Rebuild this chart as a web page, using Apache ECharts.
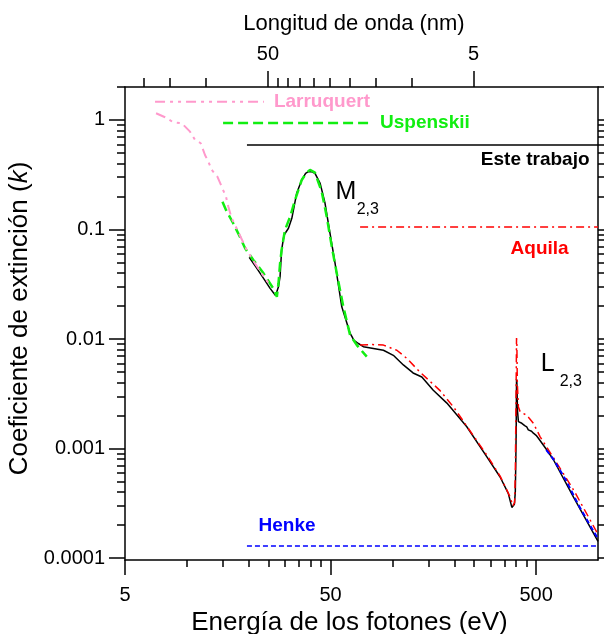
<!DOCTYPE html>
<html>
<head>
<meta charset="utf-8">
<script src="https://cdn.jsdelivr.net/npm/echarts@6/dist/echarts.min.js"></script>
<style>
  html, body { margin: 0; padding: 0; background: #fff; }
  #chart { width: 604px; height: 634px; }
</style>
</head>
<body>
<div id="chart"></div>
<script>
// ---- data ----
const HC = 1239.84; // eV*nm

const eMajor = [5, 50, 500];
const eMinor = [10, 15, 20, 25, 30, 35, 40, 45, 100, 150, 200, 250, 300, 350, 400, 450];
const nmMajor = [50, 5];
const nmMinor = [200, 150, 100, 45, 40, 35, 30, 25, 20, 15, 10];
const kMajor = [0.0001, 0.001, 0.01, 0.1, 1];
const kMajorLabels = ['0.0001', '0.001', '0.01', '0.1', '1'];
const kMinor = [2, 3, 4, 5, 6, 7, 8, 9];

// Este trabajo
const estePts = [
  [20.1, 0.0557], [21.9, 0.0442], [23.6, 0.0358], [25.4, 0.0290], [27.0, 0.0250], [27.4, 0.0243],
  [27.9, 0.030], [28.4, 0.0371], [28.9, 0.065], [29.7, 0.0891], [31.2, 0.1026], [32.4, 0.1266],
  [34.2, 0.214], [36.2, 0.283], [37.8, 0.325], [39.0, 0.337], [40.5, 0.336], [42.0, 0.326],
  [44.5, 0.264], [47.0, 0.1735], [49.7, 0.0923], [52.6, 0.0491], [56.7, 0.0197], [62.2, 0.0113],
  [65.0, 0.0097], [68.3, 0.0091], [72.2, 0.0085], [80.8, 0.0082], [90.4, 0.0079], [101, 0.0071],
  [113, 0.0058], [126, 0.0049], [139, 0.0045], [158, 0.0034], [184, 0.0026], [230, 0.00158],
  [288, 0.00084], [334, 0.00055], [366, 0.00039], [381, 0.00029], [392, 0.00031], [396, 0.00040],
  [398, 0.00070], [400, 0.0015], [401.5, 0.0043], [403, 0.0040], [406, 0.0022], [410, 0.00176],
  [426, 0.0017], [440, 0.00162], [450, 0.00158], [458, 0.00148], [467, 0.00150], [475, 0.00144],
  [485, 0.00138], [500, 0.00132], [513, 0.00124], [564, 0.00097], [607, 0.00079], [760, 0.00036],
  [1000, 0.000142]
];
// Aquila
const aquilaPts = [
  [69.6, 0.0088], [80, 0.0089], [90.4, 0.0088], [105, 0.0079], [117, 0.0067], [136, 0.0050],
  [170, 0.0034], [198, 0.0024], [230, 0.00160], [288, 0.00087], [334, 0.00056], [374, 0.00036],
  [385, 0.00030], [393, 0.00032], [396, 0.0006], [399, 0.0025], [401.5, 0.0102], [403, 0.0090],
  [405, 0.0040], [410, 0.0024], [418, 0.00217], [430, 0.0021], [450, 0.00202], [462, 0.0019],
  [470, 0.00192], [485, 0.0017], [523, 0.00128], [596, 0.00087], [760, 0.00042], [1000, 0.000165]
];
// Uspenskii
const uspenskiiPts = [
  [14.9, 0.179], [15.5, 0.151], [16.8, 0.114], [18.1, 0.086], [19.2, 0.0673], [21.05, 0.0527],
  [23.6, 0.0398], [26.3, 0.029], [27.4, 0.0243], [27.9, 0.0323], [28.4, 0.0491], [28.9, 0.065],
  [30.0, 0.0989], [31.8, 0.131], [33.6, 0.186], [36.2, 0.283], [38.2, 0.33], [39.7, 0.35],
  [42.0, 0.330], [45.3, 0.221], [47.9, 0.131], [50.7, 0.0697], [53.6, 0.0398], [57.7, 0.0197],
  [62.2, 0.0109], [67.1, 0.0088], [75, 0.0069]
];
// Larruquert
const larruquertPts = [
  [7.08, 1.151], [7.83, 1.058], [8.59, 0.953], [9.44, 0.933], [10.36, 0.782], [10.96, 0.657],
  [11.68, 0.613], [12.25, 0.479], [12.72, 0.416], [13.21, 0.350], [14.07, 0.304], [14.77, 0.246],
  [15.5, 0.199], [15.9, 0.162], [16.5, 0.127], [17.15, 0.11], [19.55, 0.065], [21.45, 0.049],
  [23.1, 0.0398], [25.4, 0.031]
];
// Henke
const henkePts = [
  [560, 0.00097], [607, 0.00080], [700, 0.00051], [800, 0.00031], [900, 0.00021], [1000, 0.000150]
];

// legend keys drawn inside the plot: [fromE, toE, k]
const keyLarruquert = [7.0, 23.7, 1.47];
const keyUspenskii = [15.0, 77.8, 0.939];
const keyEste = [19.6, 1000, 0.591];
const keyAquila = [69.6, 1000, 0.1054];
const keyHenke = [19.6, 1000, 0.000129];

const FONT = '"Liberation Sans", Arial, Helvetica, sans-serif';
const C_PINK = '#ff99cc', C_GREEN = '#11ee11', C_RED = '#ff0000', C_BLUE = '#0000ff';

const chart = echarts.init(document.getElementById('chart'));

function xAx(pos, ticks, len, labelFn, extra) {
  return Object.assign({
    type: 'log', position: pos, min: 5, max: 1000,
    axisLine: { show: false, onZero: false },
    axisTick: { show: true, customValues: ticks, length: len, lineStyle: { color: '#000', width: 1.5 } },
    axisLabel: labelFn ? { show: true, customValues: ticks, formatter: labelFn, fontSize: 20, color: '#000', fontFamily: FONT, margin: pos === 'top' ? 23 : 25 } : { show: false },
    splitLine: { show: false }
  }, extra || {});
}
function yAx(pos, ticks, len, labelFn, extra) {
  return Object.assign({
    type: 'log', position: pos, min: 0.000096, max: 2,
    axisLine: { show: false, onZero: false },
    axisTick: { show: true, customValues: ticks, length: len, lineStyle: { color: '#000', width: 1.5 } },
    axisLabel: labelFn ? { show: true, customValues: ticks, formatter: labelFn, fontSize: 20, color: '#000', fontFamily: FONT, margin: 20 } : { show: false },
    splitLine: { show: false }
  }, extra || {});
}

const kMinorAll = [];
[0.0001, 0.001, 0.01, 0.1, 1].forEach(d => kMinor.forEach(m => kMinorAll.push(+(d * m).toPrecision(3))));

const axisLineOn = { show: true, onZero: false, lineStyle: { color: '#000', width: 1.5 } };

const option = {
  animation: false,
  grid: { left: 125, right: 6, top: 87, bottom: 74, outerBoundsMode: 'none', containLabel: false },
  xAxis: [
    xAx('bottom', eMajor, 15, v => String(Math.round(v)), {
      axisLine: axisLineOn,
      name: 'Energía de los fotones (eV)', nameLocation: 'middle', nameGap: 42,
      nameTextStyle: { fontSize: 26, color: '#000', fontFamily: FONT, padding: [0, 24, 0, 0] }
    }),
    xAx('bottom', eMinor, 7, null),
    xAx('top', nmMajor.map(l => HC / l), 16, v => String(Math.round(HC / v)), {
      axisLine: axisLineOn,
      name: 'Longitud de onda (nm)', nameLocation: 'middle', nameGap: 52,
      nameTextStyle: { fontSize: 22, color: '#000', fontFamily: FONT, padding: [0, 15, 0, 0] }
    }),
    xAx('top', nmMinor.map(l => HC / l), 9, null)
  ],
  yAxis: [
    yAx('left', kMajor, 16, v => {
      let best = 0;
      kMajor.forEach((t, i) => { if (Math.abs(Math.log10(t) - Math.log10(v)) < Math.abs(Math.log10(kMajor[best]) - Math.log10(v))) best = i; });
      return kMajorLabels[best];
    }, {
      axisLine: axisLineOn,
      name: 'Coeficiente de extinción ({it|k})', nameLocation: 'middle', nameGap: 80,
      nameTextStyle: { fontSize: 26, color: '#000', fontFamily: FONT, padding: [0, 0, 0, 10], rich: { it: { fontSize: 26, fontStyle: 'italic', color: '#000', fontFamily: FONT } } }
    }),
    yAx('left', kMinorAll, 8, null),
    yAx('right', kMajor, 16, null, { axisLine: axisLineOn }),
    yAx('right', kMinorAll, 8, null)
  ],
  series: [
    { name: 'Este trabajo', type: 'line', data: estePts, symbol: 'none', lineStyle: { color: '#000', width: 1.5 }, z: 3 },
    { name: 'Aquila', type: 'line', data: aquilaPts, symbol: 'none', lineStyle: { color: C_RED, width: 1.5, type: [8, 4, 2, 4] }, z: 4 },
    { name: 'Uspenskii', type: 'line', data: uspenskiiPts, symbol: 'none', lineStyle: { color: C_GREEN, width: 2.5, type: [10, 5] }, z: 5 },
    { name: 'Larruquert', type: 'line', data: larruquertPts, symbol: 'none', lineStyle: { color: C_PINK, width: 2, type: [10, 5, 3, 5, 3, 5] }, z: 6 },
    { name: 'Henke', type: 'line', data: henkePts, symbol: 'none', lineStyle: { color: C_BLUE, width: 2, type: [5, 3] }, z: 7 },

    // legend keys
    { name: 'Larruquert', type: 'line', symbol: 'none', data: [[keyLarruquert[0], keyLarruquert[2]], [keyLarruquert[1], keyLarruquert[2]]],
      lineStyle: { color: C_PINK, width: 2, type: [10, 5, 3, 5, 3, 5] },
      endLabel: { show: true, formatter: '{a}', distance: 10, color: C_PINK, fontWeight: 'bold', fontSize: 19, fontFamily: FONT } },
    { name: 'Uspenskii', type: 'line', symbol: 'none', data: [[keyUspenskii[0], keyUspenskii[2]], [keyUspenskii[1], keyUspenskii[2]]],
      lineStyle: { color: C_GREEN, width: 2.5, type: [10, 5] },
      endLabel: { show: true, formatter: '{a}', distance: 10, color: C_GREEN, fontWeight: 'bold', fontSize: 19, fontFamily: FONT } },
    { name: 'Este trabajo key', type: 'line', symbol: 'none', data: [[keyEste[0], keyEste[2]], [keyEste[1], keyEste[2]]],
      lineStyle: { color: '#000', width: 1.5 } },
    { name: 'Aquila key', type: 'line', symbol: 'none', data: [[keyAquila[0], keyAquila[2]], [keyAquila[1], keyAquila[2]]],
      lineStyle: { color: C_RED, width: 1.5, type: [8, 4, 2, 4] } },
    { name: 'Henke key', type: 'line', symbol: 'none', data: [[keyHenke[0], keyHenke[2]], [keyHenke[1], keyHenke[2]]],
      lineStyle: { color: C_BLUE, width: 1.5, type: [5, 3] } },

    // text annotations
    {
      type: 'scatter', symbolSize: 1, itemStyle: { color: 'rgba(0,0,0,0)', opacity: 1 }, silent: true, z: 10,
      label: { show: true, formatter: p => p.data.text, fontFamily: FONT, fontWeight: 'bold', fontSize: 19 },
      data: [
        { value: [915, 0.431], text: 'Este trabajo', label: { position: 'left', distance: 0, color: '#000' } },
        { value: [373.6, 0.0664], text: 'Aquila', label: { position: 'right', distance: 0, color: C_RED } },
        { value: [22.2, 0.000196], text: 'Henke', label: { position: 'right', distance: 0, color: C_BLUE } },
        { value: [52.6, 0.218], text: 'M', label: { position: 'right', distance: 0, color: '#000', fontWeight: 'normal', fontSize: 25 } },
        { value: [66.6, 0.1507], text: '2,3', label: { position: 'right', distance: 0, color: '#000', fontWeight: 'normal', fontSize: 16 } },
        { value: [523, 0.0059], text: 'L', label: { position: 'right', distance: 0, color: '#000', fontWeight: 'normal', fontSize: 25 } },
        { value: [647, 0.00405], text: '2,3', label: { position: 'right', distance: 0, color: '#000', fontWeight: 'normal', fontSize: 16 } }
      ]
    }
  ]
};

chart.setOption(option);
window.addEventListener('resize', () => chart.resize());
</script>
</body>
</html>
